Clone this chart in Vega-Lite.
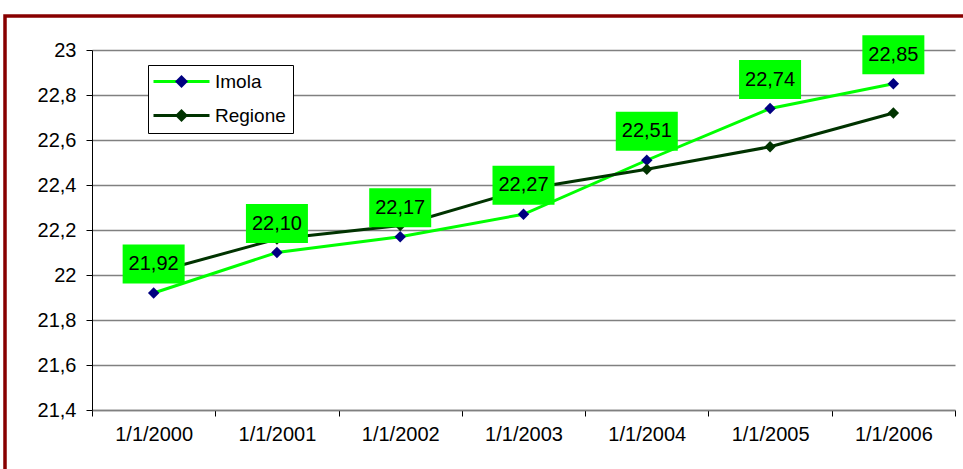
{
  "$schema": "https://vega.github.io/schema/vega-lite/v6.json",
  "width": 1000,
  "height": 500,
  "autosize": {"type": "none"},
  "padding": {"left": 5, "top": 16, "right": -42, "bottom": -47},
  "background": "white",
  "config": {
    "view": {"stroke": "#880000", "strokeWidth": 3.5},
    "font": "Liberation Sans",
    "locale": {"number": {"decimal": ",", "thousands": ".", "grouping": [3], "currency": ["", " €"]}}
  },
  "data": {
    "values": [
      {"date": "1/1/2000", "series": "Imola", "value": 21.92},
      {"date": "1/1/2001", "series": "Imola", "value": 22.10},
      {"date": "1/1/2002", "series": "Imola", "value": 22.17},
      {"date": "1/1/2003", "series": "Imola", "value": 22.27},
      {"date": "1/1/2004", "series": "Imola", "value": 22.51},
      {"date": "1/1/2005", "series": "Imola", "value": 22.74},
      {"date": "1/1/2006", "series": "Imola", "value": 22.85},
      {"date": "1/1/2000", "series": "Regione", "value": 22.01},
      {"date": "1/1/2001", "series": "Regione", "value": 22.16},
      {"date": "1/1/2002", "series": "Regione", "value": 22.22},
      {"date": "1/1/2003", "series": "Regione", "value": 22.38},
      {"date": "1/1/2004", "series": "Regione", "value": 22.47},
      {"date": "1/1/2005", "series": "Regione", "value": 22.57},
      {"date": "1/1/2006", "series": "Regione", "value": 22.72}
    ]
  },
  "encoding": {
    "x": {
      "field": "date", "type": "nominal", "sort": null,
      "scale": {"type": "band", "range": [87, 950], "paddingInner": 0, "paddingOuter": 0},
      "axis": {"title": null, "labelAngle": 0, "tickBand": "extent", "offset": -106, "domainColor": "#808080", "domainWidth": 1.5, "tickColor": "#000", "tickSize": 6, "labelFontSize": 20, "labelColor": "#000", "labelPadding": 8, "grid": false}
    },
    "y": {
      "field": "value", "type": "quantitative",
      "scale": {"domain": [21.4, 23], "range": [394, 34], "nice": false, "zero": false},
      "axis": {"title": null, "values": [21.4, 21.6, 21.8, 22, 22.2, 22.4, 22.6, 22.8, 23], "format": ".1~f", "offset": -87, "domainColor": "#000", "tickColor": "#000", "tickSize": 6, "labelFontSize": 20, "labelColor": "#000", "labelPadding": 10, "gridColor": "#808080", "gridWidth": 1.5}
    }
  },
  "layer": [
    {
      "mark": {"type": "line", "strokeWidth": 3},
      "encoding": {
        "color": {
          "field": "series", "type": "nominal",
          "scale": {"range": ["#00FF00", "#003300"]},
          "legend": {"orient": "none", "legendX": 143, "legendY": 49, "title": null, "symbolType": "M-8,0H8", "symbolSize": 49, "symbolStrokeWidth": 3, "symbolOffset": 17, "labelFontSize": 19, "labelColor": "#000", "strokeColor": "#000", "fillColor": "#fff", "padding": 7, "rowPadding": 14, "labelOffset": 24}
        }
      }
    },
    {
      "mark": {"type": "point", "shape": "diamond", "filled": true, "size": 130, "opacity": 1},
      "encoding": {
        "fill": {
          "field": "series", "type": "nominal",
          "scale": {"domain": ["Imola", "Regione"], "range": ["#000080", "#003300"]},
          "legend": {"orient": "none", "legendX": 160, "legendY": 49, "title": null, "symbolType": "diamond", "symbolSize": 169, "symbolStrokeWidth": 0, "labelFontSize": 19, "labelExpr": "''", "padding": 7, "rowPadding": 14}
        }
      }
    },
    {
      "transform": [{"filter": "datum.series === 'Imola'"}],
      "mark": {"type": "point", "shape": "M-1,-0.629H1V0.629H-1Z", "filled": true, "size": 3844, "color": "#00FF00", "opacity": 1, "yOffset": -29}
    },
    {
      "transform": [{"filter": "datum.series === 'Imola'"}],
      "mark": {"type": "text", "fontSize": 20, "baseline": "middle", "align": "center", "color": "#000", "yOffset": -29},
      "encoding": {"text": {"field": "value", "type": "quantitative", "format": ".2f"}}
    }
  ]
}
